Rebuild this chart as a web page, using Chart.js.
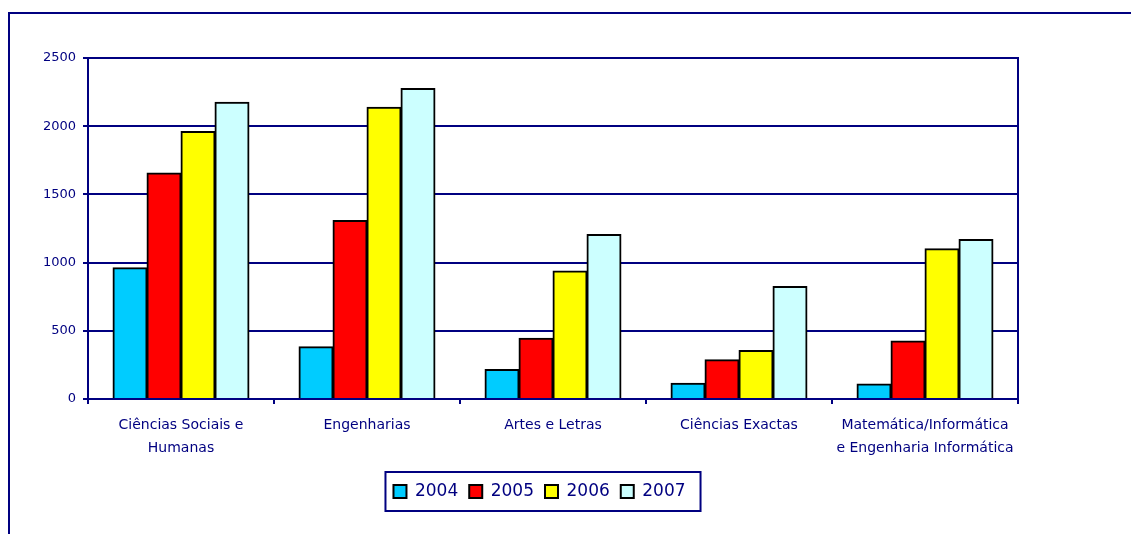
<!DOCTYPE html>
<html>
<head>
<meta charset="utf-8">
<script src="https://cdn.jsdelivr.net/npm/chart.js@4/dist/chart.umd.min.js"></script>
<style>
  html, body { margin: 0; padding: 0; background: #fff; overflow: hidden; }
  #frame { position: absolute; left: 8px; top: 12px; width: 1200px; height: 600px; border: 2px solid #000080; }
  #wrap { position: absolute; left: 0; top: 0; width: 1131px; height: 534px; }
</style>
</head>
<body>
<div id="frame"></div>
<div id="wrap"><canvas id="chart"></canvas></div>
<script>
var categories = [
    ["Ciências Sociais e", "Humanas"],
    "Engenharias",
    "Artes e Letras",
    "Ciências Exactas",
    ["Matemática/Informática", "e Engenharia Informática"]
];
var years = ["2004", "2005", "2006", "2007"];
var values2004 = [963, 383, 217, 115, 110];
var values2005 = [1657, 1308, 446, 287, 426];
var values2006 = [1962, 2139, 938, 356, 1101];
var values2007 = [2176, 2276, 1206, 824, 1170];
var colors = ["#00CCFF", "#FF0000", "#FFFF00", "#CCFFFF"];

var navy = "#000080";

// frame around the legend, like the Excel one
var legendBox = {
    id: "legendBox",
    afterDraw: function(chart) {
        var boxes = chart.legend.legendHitBoxes;
        if (!boxes || !boxes.length) return;
        var first = boxes[0], last = boxes[boxes.length - 1];
        var ctx = chart.ctx;
        ctx.save();
        ctx.strokeStyle = navy;
        ctx.lineWidth = 2;
        ctx.strokeRect(first.left - 8, first.top - 11,
            last.left + last.width + 15 - (first.left - 8), first.height + 22);
        ctx.restore();
    }
};

var series = [values2004, values2005, values2006, values2007];
var datasets = series.map(function(vals, i) {
    return {
        label: years[i],
        data: vals,
        backgroundColor: colors[i],
        borderColor: "#000",
        borderWidth: 2,
        inflateAmount: 0.5,
        categoryPercentage: 0.731,
        barPercentage: 1.0
    };
});

new Chart(document.getElementById("chart"), {
    type: "bar",
    data: { labels: categories, datasets: datasets },
    options: {
        responsive: true,
        maintainAspectRatio: false,
        animation: false,
        layout: { padding: { left: 0, right: 52, top: 58, bottom: 24 } },
        plugins: {
            tooltip: { enabled: false },
            legend: {
                position: "bottom",
                labels: {
                    boxWidth: 13,
                    boxHeight: 13,
                    padding: 11,
                    color: navy,
                    font: { family: "DejaVu Sans", size: 17 }
                }
            }
        },
        scales: {
            x: {
                grid: { drawOnChartArea: false, color: navy, lineWidth: 2, tickLength: 5 },
                border: { color: navy, width: 2 },
                ticks: {
                    color: navy,
                    padding: 10,
                    maxRotation: 0,
                    font: { family: "DejaVu Sans", size: 14, lineHeight: 1.62 }
                },
                afterFit: function(s) { s.height = 73; }
            },
            y: {
                min: 0,
                max: 2500,
                ticks: {
                    stepSize: 500,
                    color: navy,
                    padding: 7,
                    font: { family: "DejaVu Sans", size: 13 },
                    callback: function(v) { return String(v); }
                },
                grid: { color: navy, lineWidth: 2, tickLength: 5 },
                border: { color: navy, width: 2 },
                afterFit: function(s) { s.width = 88; }
            },
            yR: {
                type: "linear",
                position: "right",
                display: true,
                grid: { display: false },
                ticks: { display: false },
                border: { display: true, color: navy, width: 2 },
                afterFit: function(s) { s.width = 61; }
            }
        }
    },
    plugins: [legendBox]
});
</script>
</body>
</html>
